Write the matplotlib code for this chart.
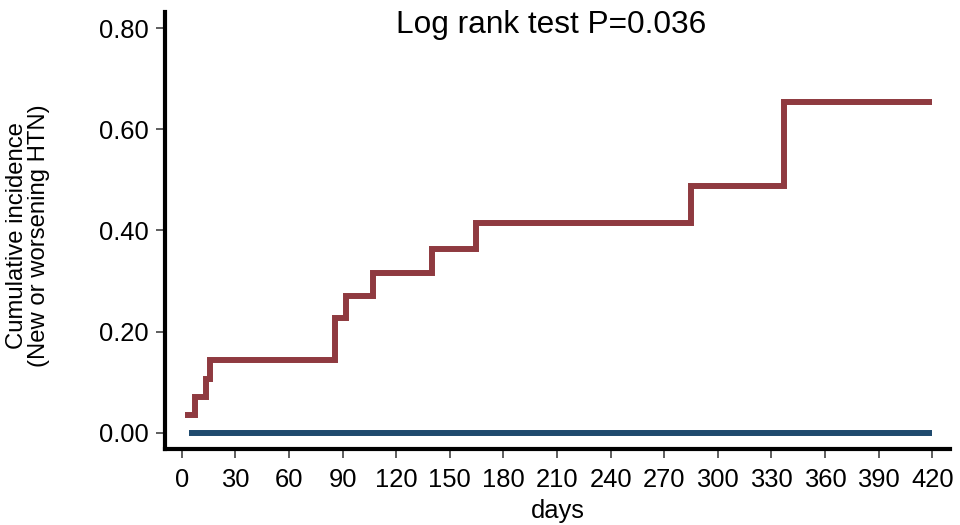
import matplotlib
matplotlib.use("Agg")
import matplotlib.pyplot as plt

plt.rcParams['font.family'] = ['Liberation Sans', 'DejaVu Sans']

# Data (step functions, post-step)
red_days = [2, 7.5, 13.4, 15.7, 85.7, 91.9, 106.8, 139.8, 164.7, 285.2, 336.9, 420]
red_vals = [0.036, 0.071, 0.107, 0.143, 0.227, 0.270, 0.316, 0.364, 0.415, 0.488, 0.654, 0.654]
blue_days = [4, 420]
blue_vals = [0.0, 0.0]

xticks = list(range(0, 421, 30))
yticks = [0.0, 0.2, 0.4, 0.6, 0.8]

red_color = '#8f3a40'
blue_color = '#1f4a6e'

fig = plt.figure(figsize=(9.6, 5.25), dpi=100)
ax = fig.add_axes([165/960, 1 - 449/525, (950-165)/960, (449-12)/525])

ax.step(red_days, red_vals, where='post', color=red_color, lw=4.3, solid_joinstyle='miter', solid_capstyle='butt')
ax.step(blue_days, blue_vals, where='post', color=blue_color, lw=4.3, solid_capstyle='butt')

ax.set_xlim(-9.4, 429.9)
ax.set_ylim(-0.032, 0.832)
ax.set_xticks(xticks)
ax.set_xticklabels([str(t) for t in xticks])
ax.set_yticks(yticks)
ax.set_yticklabels([f"{t:.2f}" for t in yticks])

for s in ['top', 'right']:
    ax.spines[s].set_visible(False)
for s in ['left', 'bottom']:
    ax.spines[s].set_linewidth(3.0)
    ax.spines[s].set_color('black')

ax.tick_params(axis='both', which='major', labelsize=18.4, length=6.5, width=1.1, color='#333333', direction='out')
ax.tick_params(axis='x', pad=7)
ax.tick_params(axis='y', pad=5.5)

ax.set_xlabel('days', fontsize=18.4, labelpad=5)

fig.text(28/960, 1 - 236/525, 'Cumulative incidence\n(New or worsening HTN)', fontsize=17.2,
         rotation=90, ha='center', va='center', linespacing=1.0, multialignment='center')

fig.text(551/960, 1 - 25/525, 'Log rank test P=0.036', fontsize=22.8, ha='center', va='center')

fig.savefig('out.png', dpi=100, facecolor='white')
